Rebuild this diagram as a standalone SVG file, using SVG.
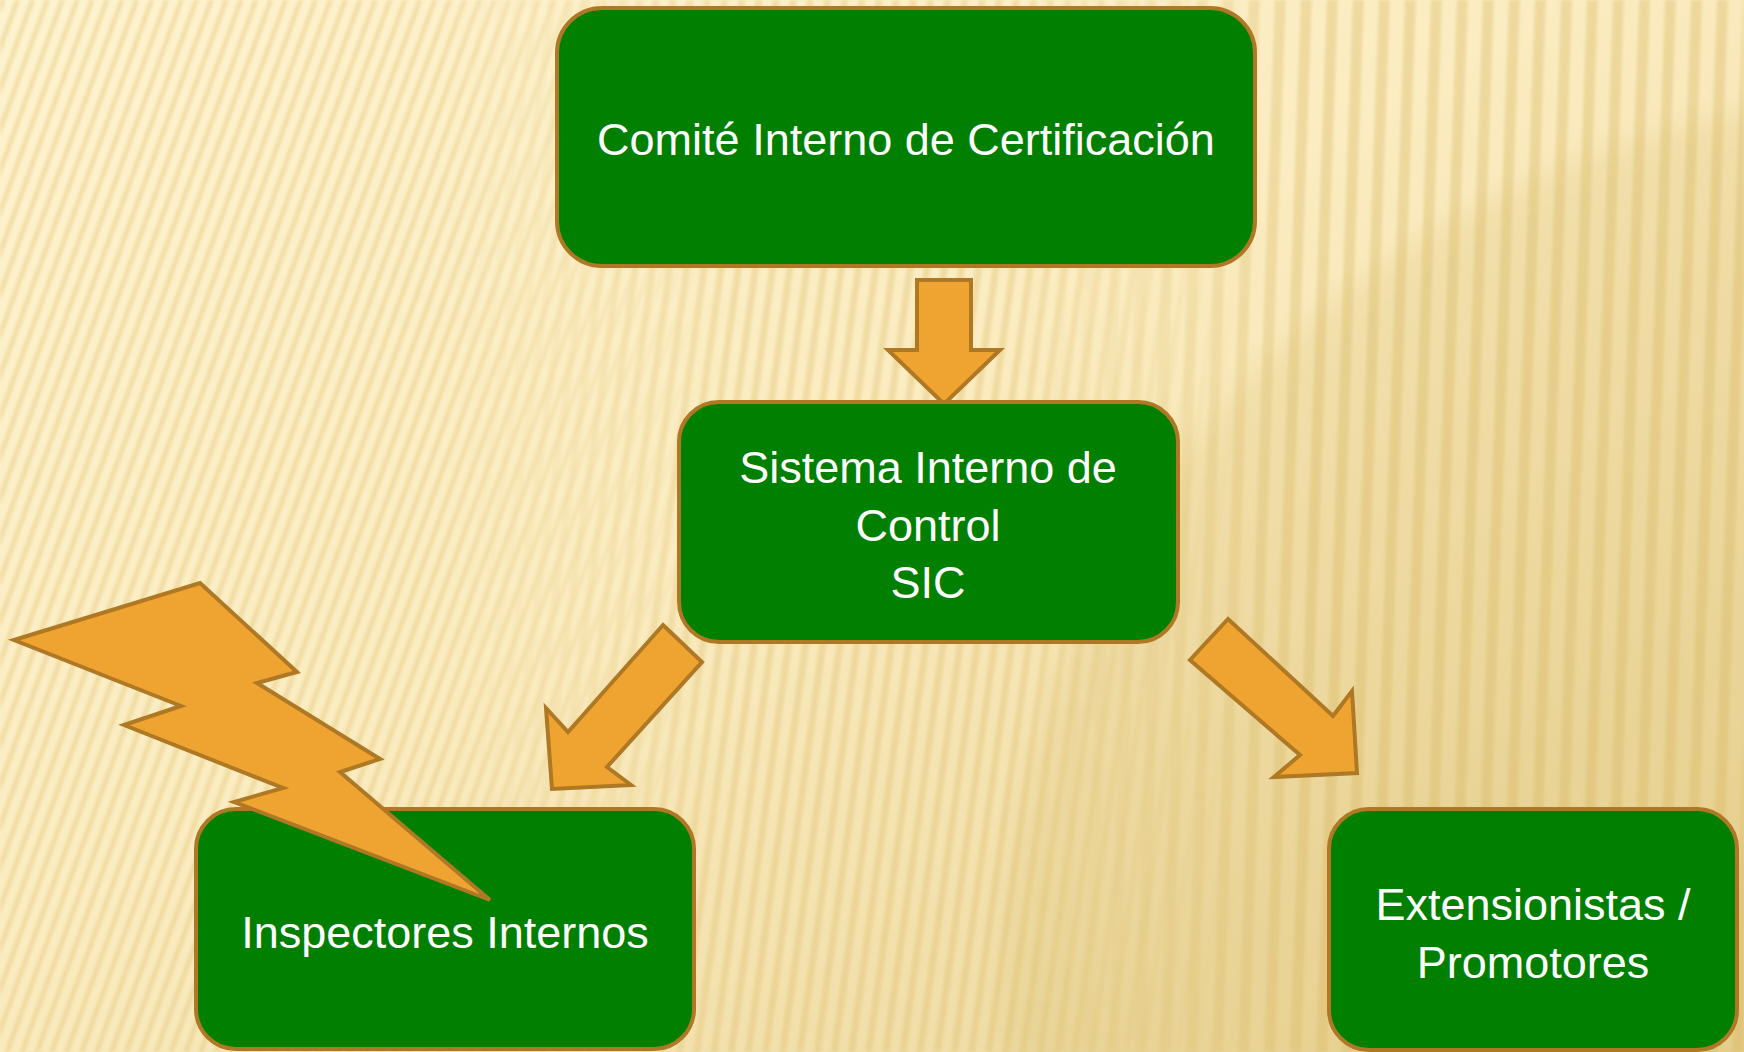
<svg xmlns="http://www.w3.org/2000/svg" width="1744" height="1052" viewBox="0 0 1744 1052">
  <style>
    .box { fill: #007F00; stroke: #AF7824; stroke-width: 4; }
    .arrow { fill: #EFA431; stroke: #AF7824; stroke-width: 4; stroke-linejoin: miter; }
    .label { font-family: "Liberation Sans", Arial, sans-serif; font-size: 45px; fill: #FFFFFF; text-anchor: middle; }
  </style>
  <defs>
    <linearGradient id="bg" x1="0" y1="0" x2="1" y2="1">
      <stop offset="0" stop-color="#FEF3CF"/>
      <stop offset="0.45" stop-color="#FBECC1"/>
      <stop offset="1" stop-color="#E9D395"/>
    </linearGradient>
    <pattern id="stripesA" patternUnits="userSpaceOnUse" width="14" height="60" patternTransform="rotate(20)">
      <rect x="0" y="0" width="5" height="60" fill="#DDBE6C"/>
    </pattern>
    <pattern id="stripesB" patternUnits="userSpaceOnUse" width="17" height="60" patternTransform="rotate(8)">
      <rect x="0" y="0" width="7" height="60" fill="#DDBE6C"/>
    </pattern>
    <pattern id="stripesC" patternUnits="userSpaceOnUse" width="26" height="60" patternTransform="rotate(2)">
      <rect x="0" y="0" width="11" height="60" fill="#D8B760"/>
    </pattern>
    <linearGradient id="mA" x1="0" y1="0" x2="1" y2="0">
      <stop offset="0" stop-color="#fff"/>
      <stop offset="0.25" stop-color="#fff"/>
      <stop offset="0.42" stop-color="#000"/>
    </linearGradient>
    <linearGradient id="mB" x1="0" y1="0" x2="1" y2="0">
      <stop offset="0.25" stop-color="#000"/>
      <stop offset="0.42" stop-color="#fff"/>
      <stop offset="0.58" stop-color="#fff"/>
      <stop offset="0.72" stop-color="#000"/>
    </linearGradient>
    <linearGradient id="mC" x1="0" y1="0" x2="1" y2="0">
      <stop offset="0.58" stop-color="#000"/>
      <stop offset="0.75" stop-color="#fff"/>
      <stop offset="1" stop-color="#fff"/>
    </linearGradient>
    <mask id="maskA"><rect x="0" y="0" width="1744" height="1052" fill="url(#mA)"/></mask>
    <mask id="maskB"><rect x="0" y="0" width="1744" height="1052" fill="url(#mB)"/></mask>
    <mask id="maskC"><rect x="0" y="0" width="1744" height="1052" fill="url(#mC)"/></mask>
    <filter id="soft" x="0" y="0" width="1" height="1">
      <feGaussianBlur stdDeviation="1.8"/>
    </filter>
    <filter id="blurBig" x="-0.2" y="-0.2" width="1.4" height="1.4">
      <feGaussianBlur stdDeviation="12"/>
    </filter>
  </defs>

  <g id="background">
    <rect x="0" y="0" width="1744" height="1052" fill="url(#bg)"/>
    <circle cx="1900" cy="1000" r="900" fill="#C9A64A" opacity="0.13" filter="url(#blurBig)"/>
    <g filter="url(#soft)" opacity="0.36">
      <rect x="0" y="0" width="1744" height="1052" fill="url(#stripesA)" mask="url(#maskA)"/>
      <rect x="0" y="0" width="1744" height="1052" fill="url(#stripesB)" mask="url(#maskB)"/>
      <rect x="0" y="0" width="1744" height="1052" fill="url(#stripesC)" mask="url(#maskC)"/>
    </g>
  </g>

  <g id="node-comite">
    <rect class="box" x="557" y="8" width="698" height="258" rx="45" ry="45"/>
    <text class="label" x="906" y="155">Comité Interno de Certificación</text>
  </g>

  <g id="connectors">
    <polygon class="arrow" points="917,280 971,280 971,350 1000,350 944,404 888,350 917,350"/>
    <polygon class="arrow" points="663,625 702,662 607,767 631,785 552,789 546,708 568,732"/>
    <polygon class="arrow" points="1228,619 1333,716 1352,691 1357,773 1274,777 1300,755 1190,660"/>
  </g>

  <g id="node-sic">
    <rect class="box" x="679" y="402" width="499" height="240" rx="40" ry="40"/>
    <text class="label" x="928" y="483">Sistema Interno de</text>
    <text class="label" x="928" y="541">Control</text>
    <text class="label" x="928" y="598">SIC</text>
  </g>

  <g id="node-inspectores">
    <rect class="box" x="196" y="809" width="498" height="240" rx="40" ry="40"/>
    <text class="label" x="445" y="948">Inspectores Internos</text>
  </g>

  <g id="node-extensionistas">
    <rect class="box" x="1329" y="809" width="408" height="241" rx="40" ry="40"/>
    <text class="label" x="1533" y="920">Extensionistas /</text>
    <text class="label" x="1533" y="978">Promotores</text>
  </g>

  <g id="lightning">
    <polygon class="arrow" points="14,640 200,583 297,672 257,683 380,759 340,772 490,900 234,802 283,788 124,725 181,706"/>
  </g>
</svg>
